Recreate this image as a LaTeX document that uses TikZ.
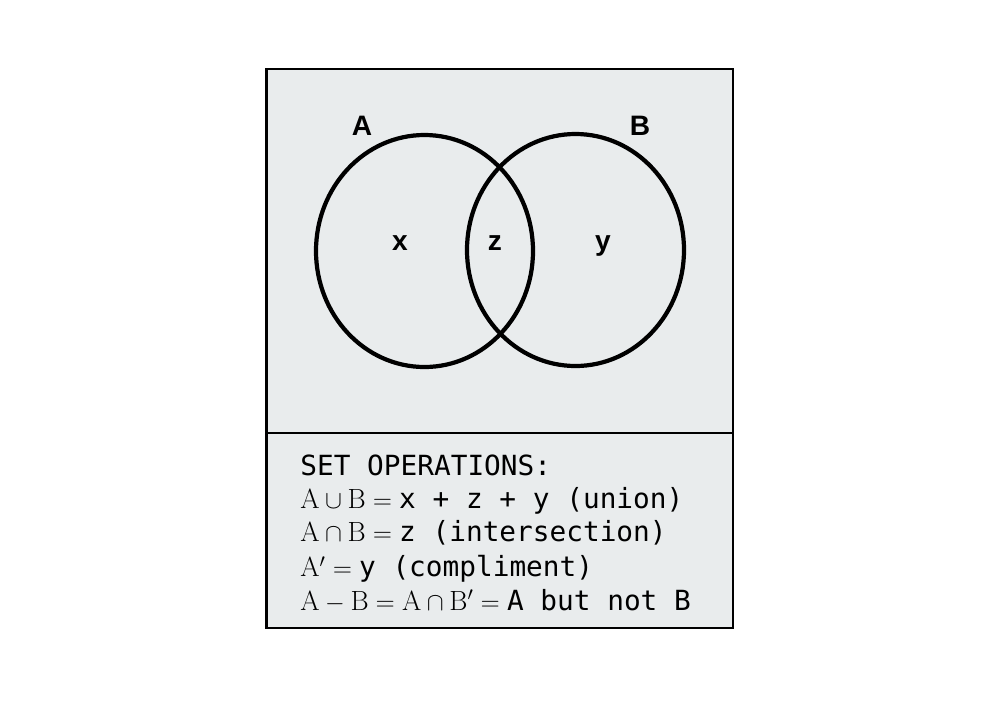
\documentclass[tikz,border=0pt]{standalone}
\usepackage{amsmath,amssymb}
\usepackage{fontspec}
\setsansfont{Liberation Sans}
\setmonofont{DejaVu Sans Mono}
\usepackage{tikz}
\definecolor{panelgray}{RGB}{233,236,237}
\newcommand{\sA}{\mathrm{A}}
\newcommand{\sB}{\mathrm{B}}

\begin{document}
\begin{tikzpicture}[every node/.style={inner sep=0pt, font=\fontsize{16}{19}\selectfont\sffamily}, setline/.style={line width=2.4pt}, boxline/.style={line width=1.6pt, fill=panelgray}, setname/.style={anchor=base, font=\fontsize{16}{19}\selectfont\sffamily\bfseries}, region/.style={anchor=base, font=\fontsize{16}{19}\selectfont\sffamily\bfseries}, opline/.style={anchor=base west, font=\fontsize{15.8}{19}\selectfont\ttfamily}]
	\useasboundingbox (0,0) rectangle (20,-14.14);
	\begin{scope}
		\draw[boxline] (5.33,-1.38) rectangle (14.66,-8.66);
		\draw[setline] (8.49,-5.02) ellipse [x radius=2.17, y radius=2.32];
		\draw[setline] (11.51,-5.00) ellipse [x radius=2.17, y radius=2.32];
		\node[setname] (setA) at (7.24,-2.7) {A};
		\node[setname] (setB) at (12.80,-2.7) {B};
		\node[region] (regx) at (8.00,-5.0) {x};
		\node[region] (regz) at (9.90,-5.0) {z};
		\node[region] (regy) at (12.06,-5.0) {y};
	\end{scope}
	\begin{scope}
		\draw[boxline] (5.33,-8.66) rectangle (14.66,-12.56);
		\node[opline] (op1) at (6.0,-9.50) {SET OPERATIONS:};
		\node[opline] (op2) at (6.0,-10.16) {$\sA\cup\sB={}$x + z + y (union)};
		\node[opline] (op3) at (6.0,-10.83) {$\sA\cap\sB={}$z (intersection)};
		\node[opline] (op4) at (6.0,-11.53) {$\sA'={}$y (compliment)};
		\node[opline] (op5) at (6.0,-12.20) {$\sA-\sB=\sA\cap\sB'={}$A but not B};
	\end{scope}
\end{tikzpicture}
\end{document}
